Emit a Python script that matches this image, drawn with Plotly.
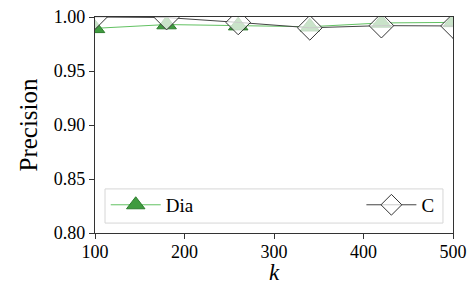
import plotly.graph_objects as go

k_values = [100, 180, 260, 340, 420, 500]
dia_precision = [0.9895, 0.993, 0.992, 0.991, 0.9945, 0.995]
c_precision = [1.0, 0.9995, 0.995, 0.990, 0.992, 0.9917]
y_ticks = [0.80, 0.85, 0.90, 0.95, 1.00]
x_ticks = [100, 200, 300, 400, 500]

FONT = "Liberation Serif, Times New Roman, serif"

fig = go.Figure()
fig.add_trace(go.Scatter(
    x=k_values, y=dia_precision, name="Dia", mode="lines+markers",
    line=dict(color="rgba(90,190,90,0.95)", width=1),
    marker=dict(symbol="triangle-up", size=17, color="#3f9b3f",
                line=dict(color="#2e7d2e", width=1)),
    cliponaxis=True, legend="legend",
))
fig.add_trace(go.Scatter(
    x=k_values, y=c_precision, name="C", mode="lines+markers",
    line=dict(color="#444444", width=1),
    marker=dict(symbol="diamond", size=19, color="rgba(255,255,255,0.72)",
                line=dict(color="#333333", width=1)),
    cliponaxis=True, legend="legend2",
))

axis_common = dict(
    showline=True, linecolor="#333333", linewidth=1.3, mirror=True,
    ticks="outside", ticklen=5, tickcolor="#333333", tickwidth=1,
    showgrid=False, zeroline=False, automargin=False,
    tickfont=dict(family=FONT, size=18, color="black"),
)

legend_common = dict(
    orientation="h", yanchor="middle", y=0.13,
    bgcolor="rgba(0,0,0,0)", borderwidth=0,
    font=dict(family=FONT, size=19), itemwidth=50,
)

fig.update_layout(
    width=474, height=286,
    margin=dict(l=95, r=21, t=17, b=53, autoexpand=False),
    paper_bgcolor="white", plot_bgcolor="white",
    font=dict(family=FONT, color="black"),
    xaxis=dict(range=[100, 500], tickvals=x_ticks, ticklabelstandoff=-3,
               **axis_common),
    yaxis=dict(range=[0.80, 1.00], tickvals=y_ticks, tickformat=".2f",
               title=dict(text="Precision", font=dict(family=FONT, size=25), standoff=9),
               **axis_common),
    legend=dict(x=0.03, xanchor="left", **legend_common),
    legend2=dict(x=0.962, xanchor="right", **legend_common),
    shapes=[dict(type="rect", xref="paper", yref="paper",
                 x0=0.028, x1=0.972, y0=0.046, y1=0.204,
                 line=dict(color="#d6d6d6", width=1),
                 fillcolor="rgba(255,255,255,0.8)", layer="below")],
    annotations=[dict(text="<i>k</i>", xref="paper", yref="paper",
                      x=0.5, y=-0.248, xanchor="center", yanchor="bottom",
                      showarrow=False, font=dict(family=FONT, size=23))],
    showlegend=True,
)

fig.write_html(
    "out.html",
    config={"displayModeBar": False},
    post_script="document.body.style.margin='0';document.body.style.overflow='hidden';",
)
